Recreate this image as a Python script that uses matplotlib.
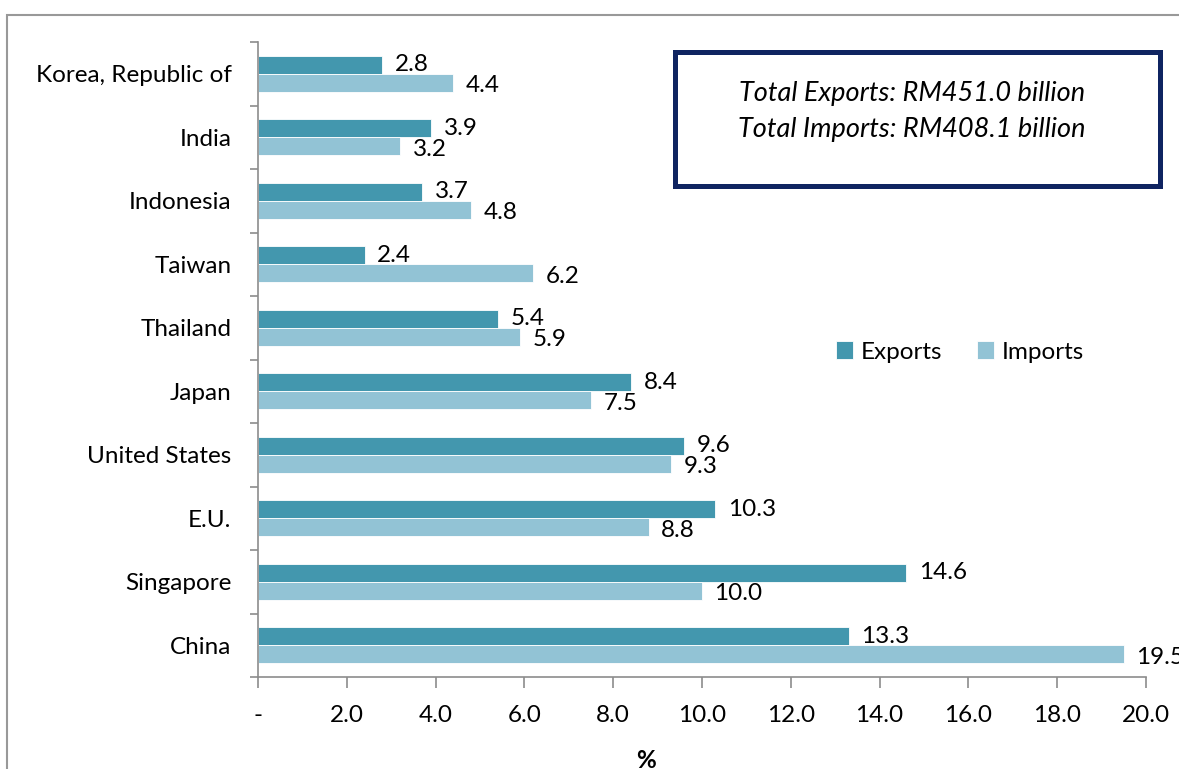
import numpy as np
import matplotlib.pyplot as plt
from matplotlib.patches import Rectangle

# top to bottom as in the chart
countries = ['Korea, Republic of', 'India', 'Indonesia', 'Taiwan', 'Thailand',
             'Japan', 'United States', 'E.U.', 'Singapore', 'China']
exports = [2.8, 3.9, 3.7, 2.4, 5.4, 8.4, 9.6, 10.3, 14.6, 13.3]
imports = [4.4, 3.2, 4.8, 6.2, 5.9, 7.5, 9.3, 8.8, 10.0, 19.5]
x_ticks = [0, 2, 4, 6, 8, 10, 12, 14, 16, 18, 20]
x_tick_labels = ['-'] + ['%.1f' % v for v in x_ticks[1:]]

exp_color = '#4397ae'
imp_color = '#92c3d5'
axis_color = '#8c8c8c'

plt.rcParams['font.family'] = ['Lato', 'DejaVu Sans']
plt.rcParams['font.size'] = 17.5

fig = plt.figure(figsize=(11.79, 7.69), dpi=100)
ax = fig.add_axes([258 / 1179, 92 / 769, 888 / 1179, 635 / 769])

ypos = np.arange(len(countries))[::-1]
h = 0.283
ax.barh(ypos + h / 2, exports, height=h, color=exp_color, edgecolor='white', linewidth=0.6, label='Exports')
ax.barh(ypos - h / 2, imports, height=h, color=imp_color, edgecolor='white', linewidth=0.6, label='Imports')

for y, e, i in zip(ypos, exports, imports):
    ax.annotate('%.1f' % e, (e, y + h / 2), xytext=(9, 0), textcoords='offset points',
                va='center', ha='left', annotation_clip=False)
    ax.annotate('%.1f' % i, (i, y - h / 2), xytext=(9, -2), textcoords='offset points',
                va='center', ha='left', annotation_clip=False)

ax.set_xlim(0, 20)
ax.set_ylim(-0.5, len(countries) - 0.5)
ax.set_xticks(x_ticks)
ax.set_xticklabels(x_tick_labels)
ax.set_yticks(ypos)
ax.set_yticklabels(countries)
ax.set_yticks(np.arange(-0.5, len(countries), 1.0), minor=True)
ax.tick_params(axis='y', which='major', length=0, pad=19)
ax.tick_params(axis='y', which='minor', length=6, color=axis_color, width=1.2)
ax.tick_params(axis='x', length=8, color=axis_color, width=1.2, pad=12)

for s in ['top', 'right']:
    ax.spines[s].set_visible(False)
for s in ['left', 'bottom']:
    ax.spines[s].set_color(axis_color)
    ax.spines[s].set_linewidth(1.2)

ax.set_xlabel('%', fontweight='bold')
ax.xaxis.set_label_coords((646 - 258) / 888, (677 - 760) / 635)
ax.xaxis.label.set_va('center')

ax.legend(loc='center', bbox_to_anchor=(960 / 1179, (769 - 352) / 769), bbox_transform=fig.transFigure,
          ncol=2, frameon=False, handlelength=0.7, handleheight=0.7, handletextpad=0.35,
          columnspacing=1.4, fontsize=17.5)

# outer chart area border (cropped in the source)
fig.patches.append(Rectangle((7 / 1179, -0.1), 1.2, (769 - 15) / 769 + 0.1, transform=fig.transFigure,
                             fill=False, edgecolor='#999999', linewidth=1.5))
# totals box
fig.patches.append(Rectangle((675 / 1179, (769 - 186) / 769), 485 / 1179, 134 / 769,
                             transform=fig.transFigure, facecolor='white',
                             edgecolor='#0f2461', linewidth=3.6))
fig.text(912 / 1179, (769 - 94) / 769, 'Total Exports: RM451.0 billion', style='italic',
         ha='center', va='center', fontsize=19.5)
fig.text(912 / 1179, (769 - 129) / 769, 'Total Imports: RM408.1 billion', style='italic',
         ha='center', va='center', fontsize=19.5)

fig.savefig('out.png', dpi=100)
